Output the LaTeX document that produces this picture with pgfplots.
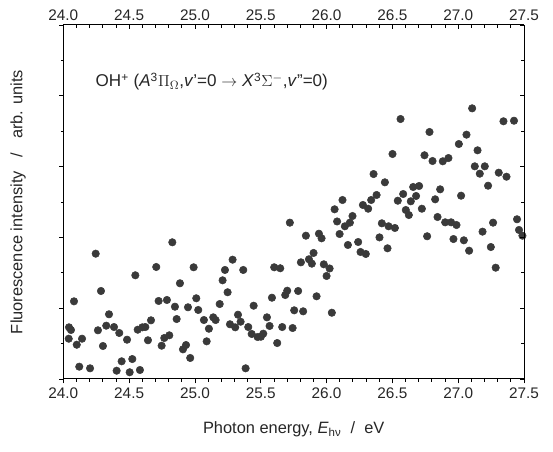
\documentclass[border=0pt]{standalone}
\usepackage{fontspec}
\setmainfont{Liberation Sans}
\usepackage{pgfplots}
\pgfplotsset{compat=1.18}
\definecolor{dotgray}{HTML}{3A3A3A}

\pgfplotstableread{
x y
24.828 1.931
24.246 1.770
24.706 1.582
24.547 1.465
24.886 1.352
24.286 1.243
24.081 1.097
24.724 1.102
24.787 1.116
24.848 1.021
24.347 0.914
24.861 0.847
24.043 0.730
24.058 0.692
24.326 0.753
24.385 0.734
24.263 0.688
24.666 0.829
24.623 0.734
24.600 0.730
24.565 0.696
24.425 0.650
24.041 0.569
24.142 0.569
24.102 0.484
24.484 0.555
24.643 0.547
24.301 0.466
24.747 0.470
24.767 0.579
24.805 0.617
24.909 0.419
24.121 0.174
24.203 0.151
24.443 0.250
24.524 0.282
24.405 0.117
24.504 0.095
24.582 0.127
25.286 1.685
24.990 1.578
25.228 1.540
25.367 1.540
25.602 1.578
25.648 1.564
25.210 1.394
25.248 1.225
25.701 1.247
25.686 1.186
25.585 1.148
25.010 1.140
25.188 1.059
25.446 1.035
24.947 1.013
25.025 0.975
25.754 0.970
25.327 0.908
25.547 0.871
25.068 0.833
25.139 0.871
25.157 0.833
25.347 0.809
25.266 0.773
25.306 0.730
25.405 0.734
25.567 0.749
25.663 0.734
25.742 0.720
25.106 0.710
25.431 0.636
25.476 0.593
25.519 0.640
25.501 0.597
25.089 0.532
25.625 0.508
24.932 0.480
24.964 0.297
25.385 0.151
25.721 2.208
25.843 2.024
25.942 2.052
25.962 1.987
25.901 1.780
25.866 1.691
25.805 1.648
25.888 1.629
25.979 1.620
26.023 1.561
26.000 1.455
25.784 1.243
25.924 1.168
25.822 0.956
26.040 0.936
26.080 2.225
27.106 3.823
26.562 3.672
27.344 3.640
27.424 3.648
26.782 3.489
27.063 3.451
27.005 3.319
27.147 3.230
26.501 3.178
26.744 3.160
26.805 3.079
26.883 3.075
26.926 3.121
27.126 3.004
27.202 3.004
27.164 2.900
27.308 2.914
27.367 2.857
26.357 2.895
26.443 2.778
27.227 2.730
26.658 2.712
26.703 2.726
26.863 2.679
26.582 2.613
26.380 2.599
26.339 2.528
26.680 2.585
27.022 2.589
26.541 2.518
26.640 2.510
26.825 2.538
26.121 2.528
26.276 2.458
26.316 2.405
26.061 2.397
26.724 2.405
26.602 2.387
26.625 2.316
26.197 2.302
26.177 2.208
26.139 2.157
26.099 2.048
26.420 2.199
26.471 2.157
26.519 2.133
26.843 2.288
26.901 2.213
26.946 2.213
26.987 2.175
27.265 2.208
27.447 2.256
27.462 2.105
27.488 2.024
26.764 2.016
26.402 2.000
26.162 1.893
26.240 1.935
26.258 1.794
26.298 1.766
26.463 1.846
26.964 1.977
27.043 1.959
27.185 2.081
27.248 1.864
27.083 1.812
27.285 1.572
}\ohdata

\pgfplotsset{
  ohframe/.style={
    width=345.5pt, height=265.5pt, scale only axis,
    xmin=24, xmax=27.5, ymin=0, ymax=5,
    xtick={24,24.5,...,27.5}, minor x tick num=4,
    ytick={0,1,...,5}, minor y tick num=1,
    yticklabels={},
    axis line style={line width=0.75pt},
    every tick/.style={black, line width=0.6pt},
    major tick length=3.2pt, minor tick length=1.9pt,
    tick label style={font=\fontsize{11.5}{13}\selectfont, text=black!85},
    /pgf/number format/assume math mode=true,
    xticklabel={\pgfmathprintnumber[fixed,fixed zerofill,precision=1]{\tick}},
  },
}

\begin{document}
\begin{tikzpicture}
\begin{axis}[
    ohframe,
    axis x line*=bottom, axis y line*=left,
    tick align=outside,
    clip=false,
    xlabel={Photon energy, \textit{E}\textsubscript{hν}\ \ /\ \ eV},
    ylabel={Fluorescence intensity\ \ \ /\ \ \ arb. units},
    label style={font=\fontsize{12.3}{14}\selectfont, text=black!85},
    xlabel style={at={(axis description cs:0.5,-0.143)}, anchor=center},
    ylabel style={at={(axis description cs:-0.098,0.5)}, anchor=center},
]
\addplot[only marks, mark=*, mark size=2.8pt, color=dotgray] table[x=x, y=y] {\ohdata};
\node[anchor=west, font=\fontsize{12.8}{15}\selectfont, text=black!85] at (axis cs:24.21,4.2)
  {OH\textsuperscript{+} (\textit{A}\textsuperscript{3}$\Pi_{\Omega}$,\textit{v}'=0 $\rightarrow$ \textit{X}\textsuperscript{3}$\Sigma^{-}$,\textit{v}''=0)};
\end{axis}
\begin{axis}[
    ohframe,
    axis x line*=top, axis y line*=right,
    tick align=inside,
]
\end{axis}
\pgfresetboundingbox
\path[use as bounding box] (current axis.south west) ++(-47.5pt,-54.75pt)
  rectangle ([shift={(21.75pt,18.75pt)}]current axis.north east);
\end{tikzpicture}
\end{document}
